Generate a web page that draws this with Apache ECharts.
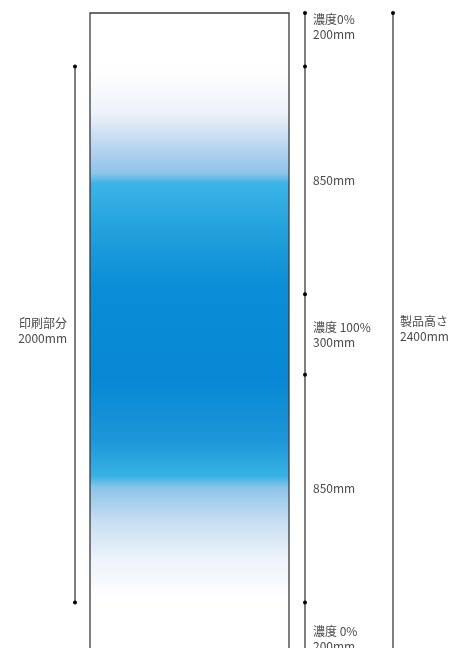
<!DOCTYPE html>
<html>
<head>
<meta charset="utf-8">
<script src="https://cdn.jsdelivr.net/npm/echarts@6/dist/echarts.min.js"></script>
<style>
  html, body { margin: 0; padding: 0; background: #fff; }
  #chart { width: 460px; height: 648px; }
</style>
</head>
<body>
<div id="chart"></div>
<script>
// 区間 (mm) — 上から順に
const segmentNames = ['濃度0%', '', '濃度 100%', '', '濃度 0%']
const segmentLengths = [200, 850, 300, 850, 200]
const printRange = [200, 2200]
const printLabel = '印刷部分'
const productLabel = '製品高さ'
const productHeight = 2400

// 区間の境界
const bounds = [0]
segmentLengths.forEach(len => bounds.push(bounds[bounds.length - 1] + len))

// レイアウト (px)
const BAR_LEFT = 90
const BAR_RIGHT = 289
const SEG_X = 305
const TOTAL_X = 393
const PRINT_X = 75

const textStyle = {
  fontFamily: '"Noto Sans CJK JP", "Noto Sans", sans-serif',
  fontSize: 12,
  fill: '#4a4a4a',
  lineHeight: 15
}

const chart = echarts.init(document.getElementById('chart'))

const dimLine = (x, values) => ({
  type: 'line',
  data: values.map(v => [x, v]),
  symbol: 'circle',
  symbolSize: 4,
  itemStyle: { color: '#000' },
  lineStyle: { color: '#555', width: 1.5 },
  silent: true,
  animation: false,
  z: 3
})

const option = {
  animation: false,
  grid: { left: 0, width: 460, top: 13, height: 643, outerBoundsMode: 'none' },
  xAxis: { type: 'value', min: 0, max: 460, show: false },
  yAxis: { type: 'value', min: 0, max: productHeight, inverse: true, show: false },
  series: [
    {
      // 印刷帯
      type: 'custom',
      data: [[0, productHeight]],
      renderItem: (params, api) => {
        const p0 = api.coord([BAR_LEFT, api.value(0)])
        const p1 = api.coord([BAR_RIGHT, api.value(1)])
        return {
          type: 'rect',
          shape: { x: p0[0], y: p0[1], width: p1[0] - p0[0], height: p1[1] - p0[1] },
          style: {
            fill: new echarts.graphic.LinearGradient(0, 0, 0, 1, [
              { offset: 0, color: '#ffffff' },
              { offset: 0.09, color: '#ffffff' },
              { offset: 0.155, color: '#eef3fa' },
              { offset: 0.215, color: '#b4d2ee' },
              { offset: 0.25, color: '#8cc4ea' },
              { offset: 0.265, color: '#3cb4e6' },
              { offset: 0.34, color: '#22a0dc' },
              { offset: 0.43, color: '#0a8cd6' },
              { offset: 0.571, color: '#0888d4' },
              { offset: 0.664, color: '#1c96d8' },
              { offset: 0.72, color: '#38b2e4' },
              { offset: 0.737, color: '#8ac4e8' },
              { offset: 0.79, color: '#c8def2' },
              { offset: 0.851, color: '#eef4fa' },
              { offset: 0.913, color: '#ffffff' },
              { offset: 1, color: '#ffffff' }
            ]),
            stroke: '#3a3a3a',
            lineWidth: 1.3
          }
        }
      },
      silent: true,
      z: 1
    },
    dimLine(SEG_X, bounds),
    dimLine(TOTAL_X, [0, productHeight]),
    dimLine(PRINT_X, printRange),
    {
      // ラベル
      type: 'custom',
      data: segmentLengths.map((len, i) => [bounds[i], bounds[i + 1], i]),
      renderItem: (params, api) => {
        const i = api.value(2)
        const len = segmentLengths[i]
        const top = api.coord([SEG_X, api.value(0)])
        const bottom = api.coord([SEG_X, api.value(1)])
        let y = (top[1] + bottom[1]) / 2
        let va = 'middle'
        if (i === 0) { y = top[1] - 1; va = 'top' }
        if (i === segmentLengths.length - 1) { y = bottom[1] - 2; va = 'bottom' }
        const txt = (segmentNames[i] ? segmentNames[i] + '\n' : '') + len + 'mm'
        return {
          type: 'text',
          x: top[0] + 8,
          y: y,
          style: Object.assign({ text: txt, textAlign: 'left', textVerticalAlign: va }, textStyle)
        }
      },
      silent: true,
      z: 4
    },
    {
      type: 'custom',
      data: [[0, productHeight]],
      renderItem: (params, api) => {
        const a = api.coord([TOTAL_X, api.value(0)])
        const b = api.coord([TOTAL_X, api.value(1)])
        return {
          type: 'text',
          x: a[0] + 7,
          y: (a[1] + b[1]) / 2 - 6,
          style: Object.assign({ text: productLabel + '\n' + productHeight + 'mm', textAlign: 'left', textVerticalAlign: 'middle' }, textStyle)
        }
      },
      silent: true,
      z: 4
    },
    {
      type: 'custom',
      data: [printRange],
      renderItem: (params, api) => {
        const a = api.coord([PRINT_X, api.value(0)])
        const b = api.coord([PRINT_X, api.value(1)])
        return {
          type: 'text',
          x: a[0] - 8,
          y: (a[1] + b[1]) / 2 - 4,
          style: Object.assign({ text: printLabel + '\n' + (printRange[1] - printRange[0]) + 'mm', textAlign: 'right', textVerticalAlign: 'middle' }, textStyle)
        }
      },
      silent: true,
      z: 4
    }
  ]
}

chart.setOption(option)
</script>
</body>
</html>
